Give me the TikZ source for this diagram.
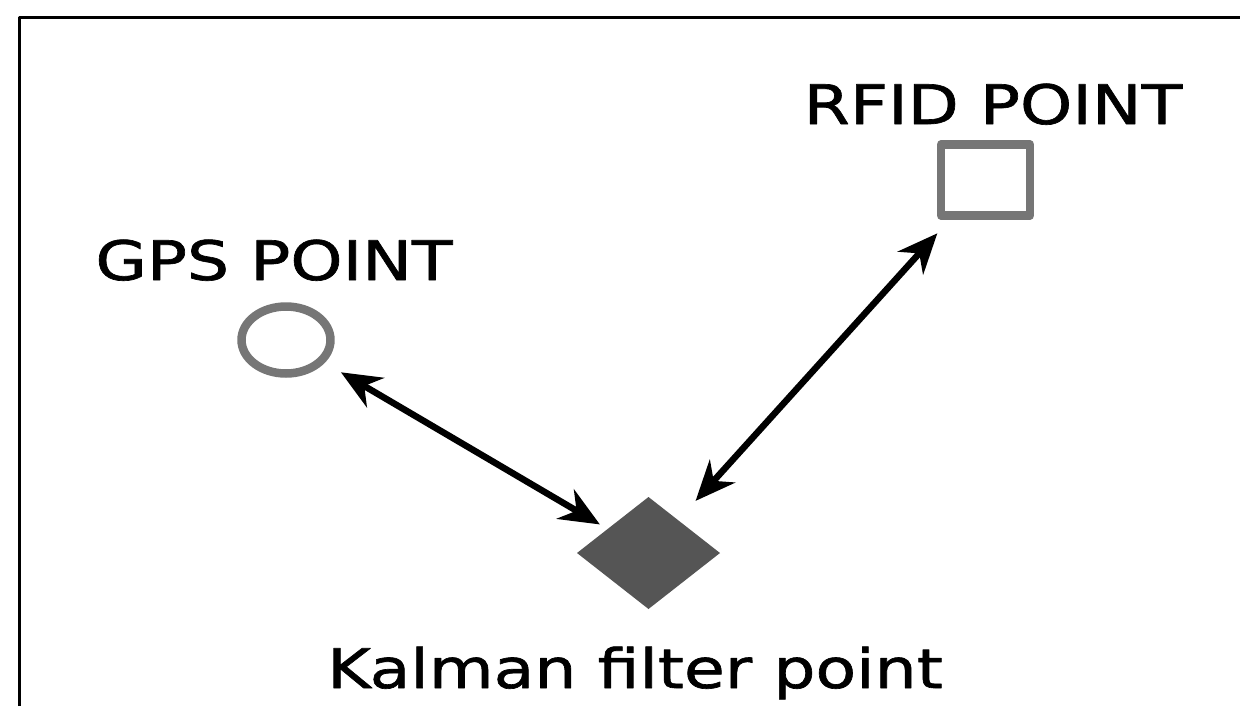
\documentclass[tikz,border=0pt]{standalone}
\usepackage{fontspec}
\usepackage{tikz}
\usetikzlibrary{arrows.meta,shapes.geometric}
\newfontfamily\lblfont[FakeStretch=1.22,FakeBold=1.2]{DejaVu Sans}
\definecolor{ptgray}{HTML}{767676}
\definecolor{kfgray}{HTML}{555555}
\tikzset{
  every picture/.style={line join=round, line cap=round, >=Stealth},
  lbl/.style={font=\lblfont\fontsize{15.5pt}{18pt}\selectfont, inner sep=0pt},
  ptmark/.style={draw=ptgray, line width=0.085cm, inner sep=0pt, outer sep=0pt},
  link/.style={line width=0.065cm, {Stealth[length=0.40cm,width=0.34cm]}-{Stealth[length=0.40cm,width=0.34cm]}},
}

\begin{document}
\begin{tikzpicture}
\useasboundingbox (0,0) rectangle (12.40,7.06);
\draw[line width=0.03cm,line cap=butt](0.19,0)--(0.19,6.89)--(12.40,6.89);
\node[ptmark,ellipse,minimum width=0.89cm,minimum height=0.67cm] (gps) at (2.860,3.660) {};
\node[ptmark,rectangle,minimum width=0.89cm,minimum height=0.71cm] (rfid) at (9.855,5.260) {};
\node[diamond,fill=kfgray,inner sep=0pt,outer sep=0pt,minimum width=1.43cm,minimum height=1.12cm] (kf) at (6.485,1.530) {};
\node[lbl,anchor=base] (gpslbl) at (2.740,4.260) {GPS POINT};
\node[lbl,anchor=base east] (rfidlbl) at (11.830,5.820) {RFID POINT};
\node[lbl,anchor=base] (kflbl) at (6.350,0.180) {Kalman filter point};
\draw[link,shorten <=0.23cm,shorten >=0.09cm] (gps) -- (kf);
\draw[link,shorten <=0.26cm,shorten >=0.24cm] (kf) -- (rfid);
\end{tikzpicture}
\end{document}
